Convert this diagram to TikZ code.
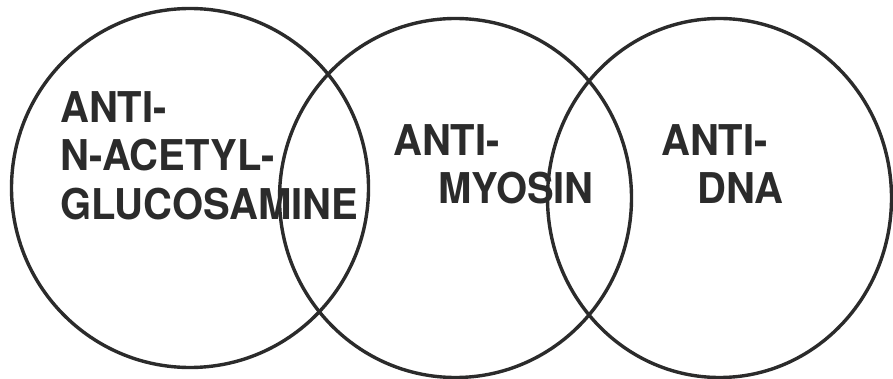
\documentclass[tikz,border=0pt]{standalone}
\usepackage{fontspec}
\setmainfont{TeX Gyre Heros}
\usepackage{tikz}
\usetikzlibrary{
    shapes.geometric,
    positioning
}
\definecolor{inkgray}{rgb}{0.17, 0.17, 0.17}
\tikzstyle{ring} = [
    ellipse,
    draw=inkgray,
    line width=3.4pt,
    inner sep=0pt,
    minimum height=359pt
]
\tikzstyle{antibody} = [
    font=\fontsize{40}{45.5}\selectfont\bfseries,
    text=inkgray,
    align=left,
    inner sep=0pt,
    anchor=north west,
    yscale=1.06,
    transform shape
]
\begin{document}
\begin{tikzpicture}[x=1pt, y=-1pt]
    \useasboundingbox (0,0) rectangle (893,379);

    % Circles
    \node[ring, minimum width=357pt] (glcring) at (190,188) {};
    \node[ring, minimum width=352pt] (myoring) at (455.5,198) {};
    \node[ring, minimum width=344pt] (dnaring) at (719.5,198) {};

    % Labels
    \node[antibody] (glc) at (60,91.5) {ANTI-\\N-ACETYL-\\GLUCOSAMINE};
    \node[antibody] (myo) at (393,124.5) {ANTI-\\\hspace{45pt}MYOSIN};
    \node[antibody] (dna) at (661,124.5) {ANTI-\\\hspace{36pt}DNA};
\end{tikzpicture}
\end{document}
